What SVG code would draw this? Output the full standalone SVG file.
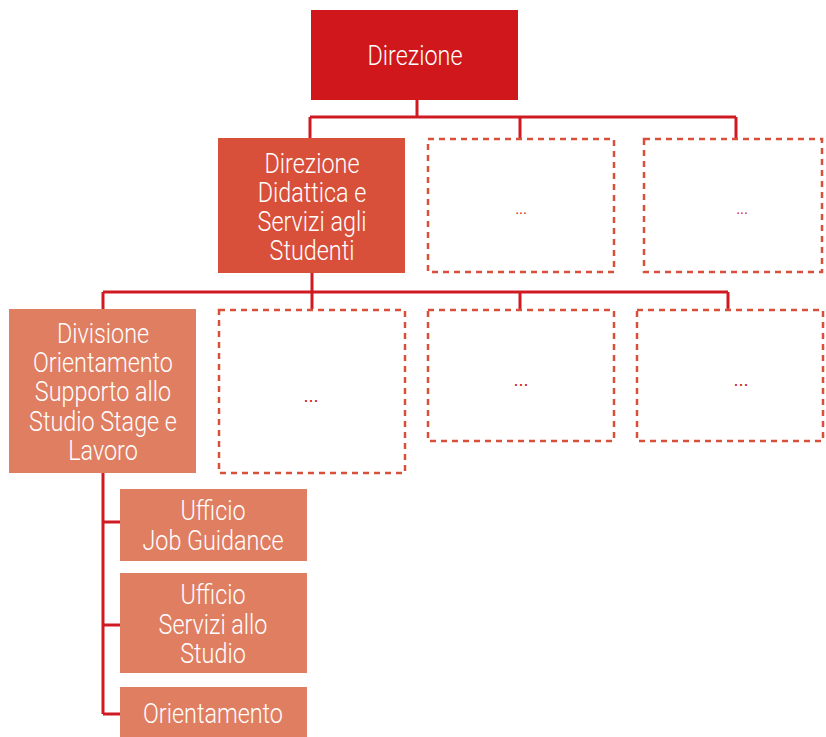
<svg xmlns="http://www.w3.org/2000/svg" width="826" height="737" viewBox="0 0 826 737">
<style>
.t{font-family:Roboto,"Liberation Sans",Arial,sans-serif;font-weight:300;font-size:28.5px;fill:#ffffff;text-anchor:middle}
.d{font-family:"Liberation Sans",Arial,sans-serif;fill:#cf1a22;text-anchor:middle}
.dash{fill:#ffffff;stroke:#d9503a;stroke-width:2.5;stroke-dasharray:6 5}
.c{fill:none;stroke:#cf1a22;stroke-width:3}
</style>
<rect width="826" height="737" fill="#ffffff"/>
<g id="connectors">
<path class="c" d="M417 100V117M310 117H736M310 117V138M520 117V138M736 117V138"/>
<path class="c" d="M312 273V309M103 292H728M103 292V309M520 292V309M728 292V309"/>
<path class="c" d="M103 473V714M103 522H120M103 625H120M103 714H120"/>
</g>
<g id="direzione">
<rect x="311" y="10" width="207" height="90" fill="#cf171c"/>
<text class="t" transform="matrix(0.82 0 0 1 415 65)">Direzione</text>
</g>
<g id="ddss">
<rect x="218" y="138" width="187" height="135" fill="#d9503a"/>
<text class="t" transform="matrix(0.82 0 0 1 312 173)">Direzione</text>
<text class="t" transform="matrix(0.82 0 0 1 312 202)">Didattica e</text>
<text class="t" transform="matrix(0.82 0 0 1 312 231)">Servizi agli</text>
<text class="t" transform="matrix(0.82 0 0 1 312 260)">Studenti</text>
</g>
<g id="l1b">
<rect class="dash" x="428" y="139" width="186" height="133"/>
<text class="d" x="521" y="214" font-size="14">...</text>
</g>
<g id="l1c">
<rect class="dash" x="644" y="139" width="178" height="133"/>
<text class="d" x="742" y="214" font-size="14">...</text>
</g>
<g id="divisione">
<rect x="9" y="309" width="187" height="164" fill="#e07e62"/>
<text class="t" transform="matrix(0.82 0 0 1 103 343)">Divisione</text>
<text class="t" transform="matrix(0.82 0 0 1 103 372)">Orientamento</text>
<text class="t" transform="matrix(0.82 0 0 1 103 401)">Supporto allo</text>
<text class="t" transform="matrix(0.82 0 0 1 103 431)">Studio Stage e</text>
<text class="t" transform="matrix(0.82 0 0 1 103 460)">Lavoro</text>
</g>
<g id="l2b">
<rect class="dash" x="219" y="310" width="186" height="163"/>
<text class="d" x="311" y="402" font-size="18">...</text>
</g>
<g id="l2c">
<rect class="dash" x="428" y="310" width="186" height="131"/>
<text class="d" x="521" y="386" font-size="18">...</text>
</g>
<g id="l2d">
<rect class="dash" x="637" y="310" width="186" height="131"/>
<text class="d" x="741" y="386" font-size="18">...</text>
</g>
<g id="jobguidance">
<rect x="120" y="489" width="187" height="72" fill="#e07e62"/>
<text class="t" transform="matrix(0.82 0 0 1 213 520)">Ufficio</text>
<text class="t" transform="matrix(0.82 0 0 1 213 550)">Job Guidance</text>
</g>
<g id="servizistudio">
<rect x="120" y="573" width="187" height="100" fill="#e07e62"/>
<text class="t" transform="matrix(0.82 0 0 1 213 604)">Ufficio</text>
<text class="t" transform="matrix(0.82 0 0 1 213 634)">Servizi allo</text>
<text class="t" transform="matrix(0.82 0 0 1 213 663)">Studio</text>
</g>
<g id="orientamento">
<rect x="120" y="687" width="187" height="50" fill="#e07e62"/>
<text class="t" transform="matrix(0.82 0 0 1 213 723)">Orientamento</text>
</g>
</svg>
